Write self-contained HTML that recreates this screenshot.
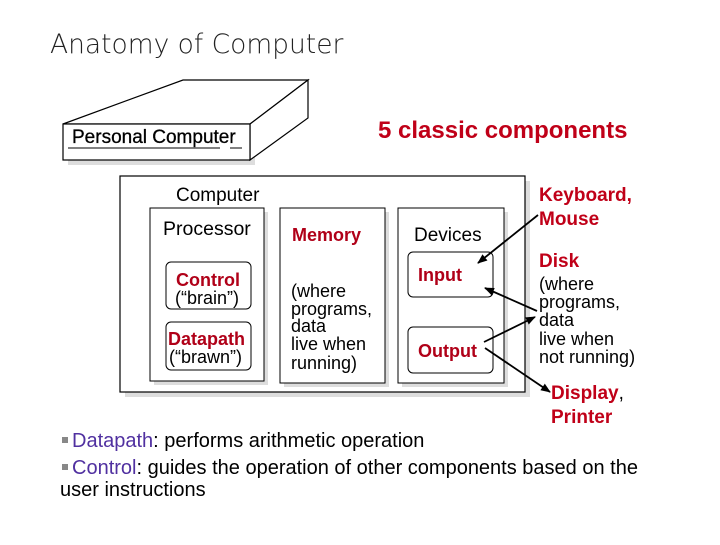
<!DOCTYPE html>
<html><head><style>
body{margin:0;background:#fff;}
svg text{font-family:"Liberation Sans",sans-serif;}
</style></head><body>
<svg width="720" height="540" viewBox="0 0 720 540" xmlns="http://www.w3.org/2000/svg">
<defs><marker id="a" markerWidth="10" markerHeight="8" refX="9" refY="4" orient="auto" markerUnits="userSpaceOnUse"><path d="M0,0 L10,4 L0,8 z" fill="#000"/></marker></defs>
<text x="50" y="53" font-size="26.5" fill="#222" style="font-family:'DejaVu Sans',sans-serif;font-weight:300">Anatomy of Computer</text>
<!-- PC box -->
<rect x="68" y="129" width="187" height="36" fill="#ddd"/>
<polygon points="63,124 183,80 308,80 250,124" fill="#fff" stroke="#000" stroke-width="1.2"/>
<polygon points="250,124 308,80 308,118 250,160" fill="#fff" stroke="#000" stroke-width="1.2"/>
<rect x="63" y="124" width="187" height="36" fill="#fff" stroke="#000" stroke-width="1.2"/>
<text x="72" y="143" font-size="19" fill="#000" stroke="#000" stroke-width="0.3">Personal Computer</text>
<line x1="68" y1="148" x2="220" y2="148" stroke="#000"/>
<line x1="230" y1="148" x2="242" y2="148" stroke="#000"/>
<text x="378" y="138" font-size="24" font-weight="bold" fill="#c00018">5 classic components</text>
<!-- outer computer box -->
<rect x="125" y="181" width="405" height="216" fill="#ddd"/>
<rect x="120" y="176" width="405" height="216" fill="#fff" stroke="#000" stroke-width="1.2"/>
<text x="176" y="201" font-size="19">Computer</text>
<rect x="154" y="212" width="114" height="173" fill="#ddd"/>
<rect x="150" y="208" width="114" height="173" fill="#fff" stroke="#000"/>
<rect x="284" y="212" width="105" height="175" fill="#ddd"/>
<rect x="280" y="208" width="105" height="175" fill="#fff" stroke="#000"/>
<rect x="402" y="212" width="106" height="175" fill="#ddd"/>
<rect x="398" y="208" width="106" height="175" fill="#fff" stroke="#000"/>
<text x="163" y="235" font-size="19.5">Processor</text>
<text x="292" y="241" font-size="18" font-weight="bold" fill="#b00018">Memory</text>
<text x="414" y="241" font-size="19">Devices</text>
<rect x="166" y="262" width="85" height="47" rx="5" fill="#fff" stroke="#000"/>
<rect x="166" y="322" width="85" height="48" rx="5" fill="#fff" stroke="#000"/>
<rect x="408" y="252" width="85" height="45" rx="5" fill="#fff" stroke="#000"/>
<rect x="408" y="327" width="85" height="46" rx="5" fill="#fff" stroke="#000"/>
<text x="176" y="286" font-size="18" font-weight="bold" fill="#b00018">Control</text>
<text x="175" y="304" font-size="18">(“brain”)</text>
<text x="168" y="345" font-size="18" font-weight="bold" fill="#b00018">Datapath</text>
<text x="169" y="363" font-size="18">(“brawn”)</text>
<text font-size="18"><tspan x="291" y="297">(where</tspan><tspan x="291" y="315">programs,</tspan><tspan x="291" y="332">data</tspan><tspan x="291" y="350">live when</tspan><tspan x="291" y="369">running)</tspan></text>
<text x="418" y="281" font-size="18" font-weight="bold" fill="#b00018">Input</text>
<text x="418" y="357" font-size="18" font-weight="bold" fill="#b00018">Output</text>
<!-- right labels -->
<text font-size="19" font-weight="bold" fill="#c00018"><tspan x="539" y="201">Keyboard,</tspan><tspan x="539" y="225">Mouse</tspan></text>
<text x="539" y="267" font-size="19" font-weight="bold" fill="#c00018">Disk</text>
<text font-size="18"><tspan x="539" y="290">(where</tspan><tspan x="539" y="308">programs,</tspan><tspan x="539" y="326">data</tspan><tspan x="539" y="345">live when</tspan><tspan x="539" y="363">not running)</tspan></text>
<text x="551" y="399" font-size="19" fill="#c00018"><tspan font-weight="bold">Display</tspan><tspan fill="#000">,</tspan></text>
<text x="551" y="423" font-size="19" font-weight="bold" fill="#c00018">Printer</text>
<!-- arrows -->
<line x1="538" y1="215" x2="478" y2="263" stroke="#000" stroke-width="1.8" marker-end="url(#a)"/>
<line x1="537" y1="311" x2="485" y2="288" stroke="#000" stroke-width="1.8" marker-end="url(#a)"/>
<line x1="484" y1="342" x2="535" y2="317" stroke="#000" stroke-width="1.8" marker-end="url(#a)"/>
<line x1="485" y1="348" x2="550" y2="392" stroke="#000" stroke-width="1.8" marker-end="url(#a)"/>
<!-- bullets -->
<rect x="62" y="437" width="6" height="6" fill="#888"/>
<text x="72" y="447" font-size="20"><tspan fill="#5030a0">Datapath</tspan>: performs arithmetic operation</text>
<rect x="62" y="464" width="6" height="6" fill="#888"/>
<text x="72" y="474" font-size="20"><tspan fill="#5030a0">Control</tspan>: guides the operation of other components based on the</text>
<text x="60" y="496" font-size="20">user instructions</text>
</svg>
</body></html>
